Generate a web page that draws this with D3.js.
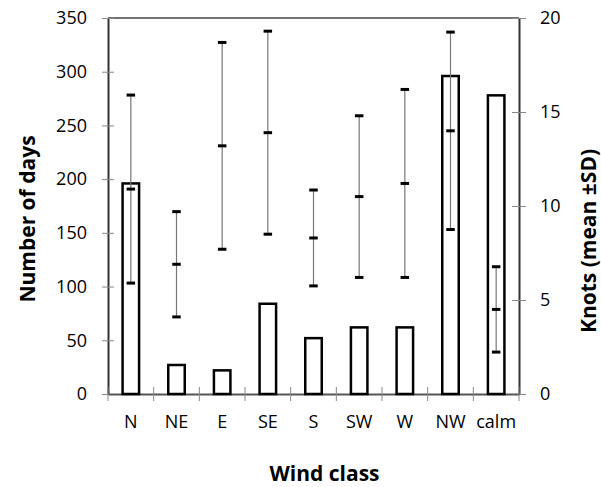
<!DOCTYPE html>
<html><head><meta charset="utf-8">
<script src="https://cdn.jsdelivr.net/npm/d3@7"></script>
<style>
body{margin:0;background:#fff;}
text{font-family:"Open Sans",sans-serif;fill:#000;}
</style></head>
<body><svg id="c" width="601" height="487"></svg>
<script>
const categories = ["N","NE","E","SE","S","SW","W","NW","calm"];
const days = [196, 27, 22, 84, 52, 62, 62, 296, 278];
const knotMean = [10.9, 6.9, 13.2, 13.9, 8.3, 10.5, 11.2, 14.0, 4.5];
const knotSD = [5.0, 2.8, 5.5, 5.4, 2.55, 4.3, 5.0, 5.25, 2.27];
const leftTicks = [0,50,100,150,200,250,300,350];
const rightTicks = [0,5,10,15,20];

const svg = d3.select("#c");
const L = 108, R = 519, T = 18, B = 394;
const x = d3.scaleBand().domain(categories).range([L, R]);
const yL = d3.scaleLinear().domain([0,350]).range([B, T]);
const yR = d3.scaleLinear().domain([0,20]).range([B, T]);

// top frame
svg.append("line").attr("x1",L).attr("x2",R).attr("y1",T).attr("y2",T)
  .attr("stroke","#444").attr("stroke-width",1.5);

// left axis
const gl = svg.append("g").attr("transform",`translate(${L},0)`)
  .call(d3.axisLeft(yL).tickValues(leftTicks).tickSize(6).tickPadding(15).tickSizeOuter(0));
gl.select(".domain").attr("stroke","#333").attr("stroke-width",2);
gl.selectAll(".tick line").attr("x1",6).attr("stroke","#888").attr("stroke-width",1);
gl.selectAll(".tick text").style("font-size","18px").attr("fill","#000");

// right axis
const gr = svg.append("g").attr("transform",`translate(${R},0)`)
  .call(d3.axisRight(yR).tickValues(rightTicks).tickSize(7).tickPadding(14).tickSizeOuter(0));
gr.select(".domain").attr("stroke","#333").attr("stroke-width",2);
gr.selectAll(".tick line").attr("x1",-7).attr("stroke","#888").attr("stroke-width",1);
gr.selectAll(".tick text").style("font-size","18px").attr("fill","#000");

// bottom axis
const gb = svg.append("g").attr("transform",`translate(0,${B})`)
  .call(d3.axisBottom(x).tickSize(0).tickPadding(21));
gb.select(".domain").attr("stroke","#555").attr("stroke-width",2);
gb.selectAll(".tick text").style("font-size","18px").attr("fill","#000");
const bounds = categories.map(c => x(c)).concat([x.range()[1]]);
gb.selectAll(".bt").data(bounds).join("line").attr("class","bt")
  .attr("x1",d=>d).attr("x2",d=>d).attr("y1",-7).attr("y2",7)
  .attr("stroke","#888").attr("stroke-width",1);

// bars
const bw = 16.5;
svg.append("g").selectAll("rect").data(categories).join("rect")
  .attr("x",(c)=>x(c)+x.bandwidth()/2-bw/2)
  .attr("y",(c,i)=>yL(days[i]))
  .attr("width",bw)
  .attr("height",(c,i)=>yL(0)-yL(days[i]))
  .attr("fill","#fff").attr("stroke","#000").attr("stroke-width",2.5);

// error bars
const eg = svg.append("g");
const cx = c => x(c)+x.bandwidth()/2;
const cw = 8.5;
categories.forEach((c,i)=>{
  const lo = knotMean[i]-knotSD[i], hi = knotMean[i]+knotSD[i];
  eg.append("line").attr("x1",cx(c)).attr("x2",cx(c)).attr("y1",yR(lo)).attr("y2",yR(hi))
    .attr("stroke","#777").attr("stroke-width",1.2);
  [lo, knotMean[i], hi].forEach(v=>{
    eg.append("line").attr("x1",cx(c)-cw/2).attr("x2",cx(c)+cw/2).attr("y1",yR(v)).attr("y2",yR(v))
      .attr("stroke","#000").attr("stroke-width",3);
  });
});

// titles
svg.append("text").attr("x",(L+R)/2+11).attr("y",481).attr("text-anchor","middle")
  .style("font-size","21px").style("font-weight","bold").text("Wind class");
svg.append("text").attr("transform","translate(35,219) rotate(-90)").attr("text-anchor","middle")
  .style("font-size","21px").style("font-weight","bold").text("Number of days");
svg.append("text").attr("transform","translate(596,241) rotate(-90)").attr("text-anchor","middle")
  .style("font-size","21px").style("font-weight","bold").text("Knots (mean ±SD)");
</script></body></html>
